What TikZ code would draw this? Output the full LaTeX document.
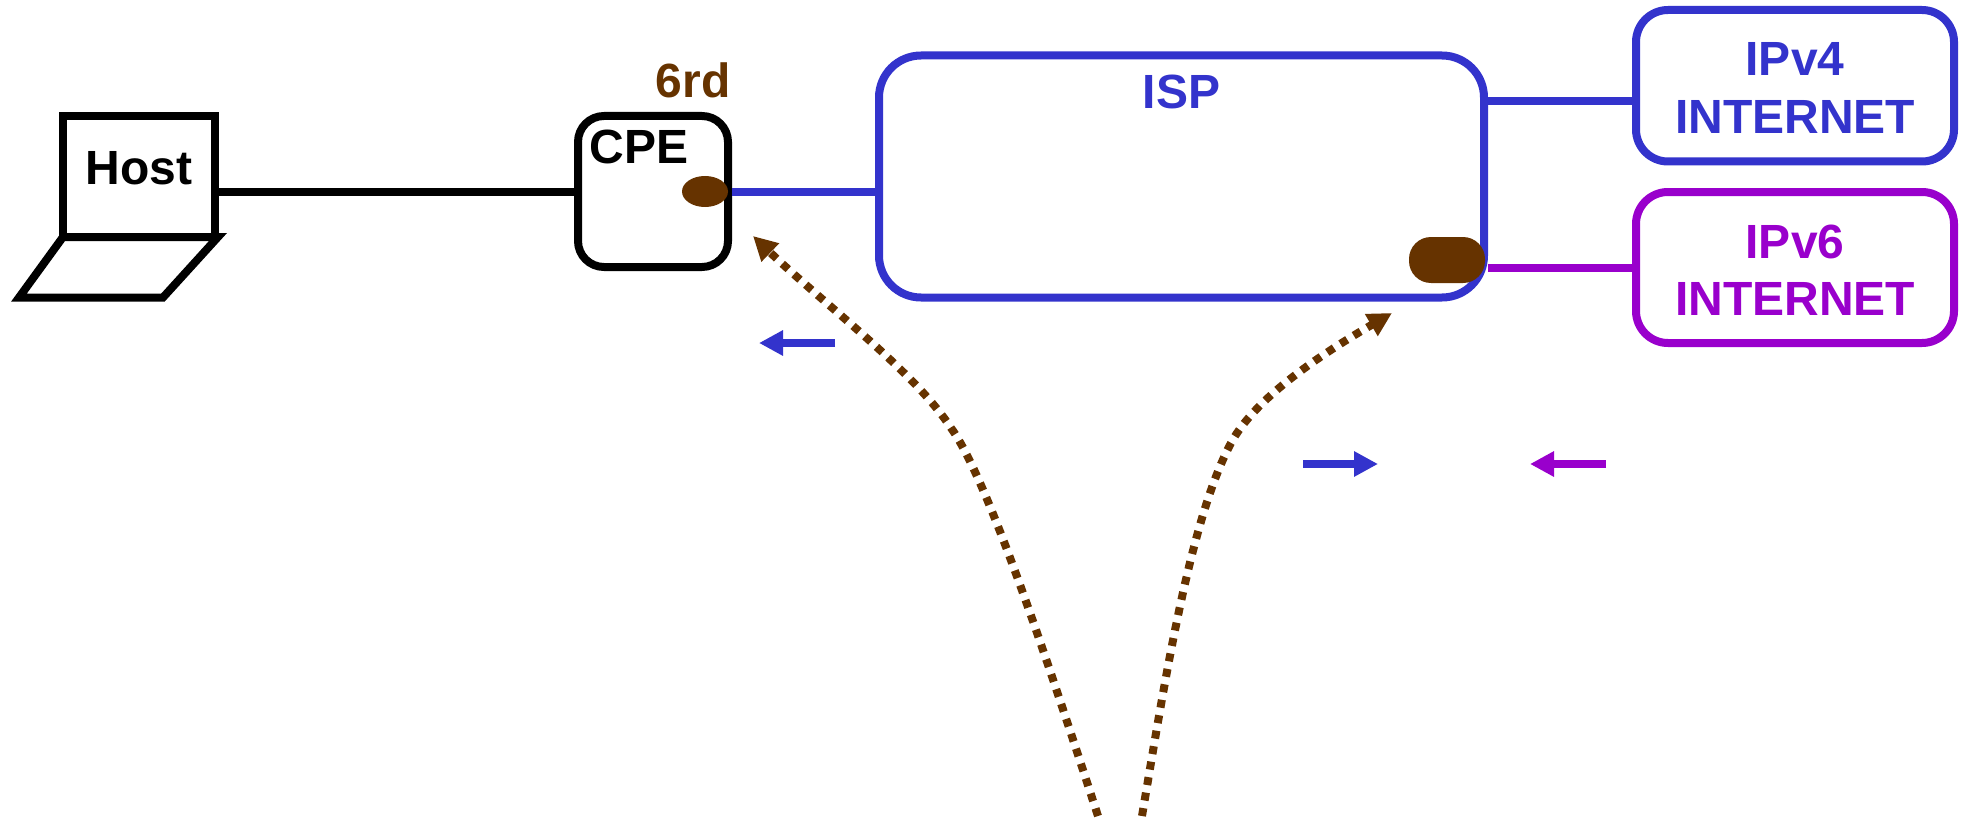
\documentclass[tikz,border=0pt]{standalone}
\usepackage{fontspec}
\setmainfont{Liberation Sans}
\usetikzlibrary{arrows.meta,shapes.geometric}
\definecolor{ispblue}{RGB}{51,51,204}
\definecolor{vsix}{RGB}{153,0,204}
\definecolor{rdbrown}{RGB}{102,51,0}
\tikzset{
  x=1pt,y=-1pt,
  lbl/.style={font=\fontsize{48}{58}\selectfont\bfseries,inner sep=0pt,anchor=base,align=center},
  boxed/.style={draw,line width=8pt,fill=none,inner sep=0pt},
  link/.style={line width=8pt},
  flow/.style={line width=8.3pt,-{Triangle[length=24pt,width=24pt]}},
  tun/.style={rdbrown,line width=8pt,dash pattern=on 8pt off 7.7pt,-{Triangle[length=24pt,width=24pt,fill=rdbrown]}},
}
\begin{document}
\begin{tikzpicture}
\useasboundingbox (0,0) rectangle (1963,824);
% host
\node[boxed,minimum width=152pt,minimum height=121pt] (host) at (139,176.5) {};
\node[lbl] (hostt) at (139,185) {Host};
\coordinate (k1) at (63,237);\coordinate (k2) at (218,237);\coordinate (k3) at (163,297.5);\coordinate (k4) at (19,297.5);
\draw[link,line join=miter] (k1)--(k2)--(k3)--(k4)--cycle;
% cpe
\node[boxed,rounded corners=26pt,minimum width=150pt,minimum height=151pt] (cpe) at (653,191.5) {};
\node[lbl] (cpet) at (639,164) {CPE};
\node[lbl,text=rdbrown] (rd) at (693,98) {6rd};
\node[ellipse,fill=rdbrown,minimum width=46pt,minimum height=31pt,inner sep=0pt] (dot) at (705,191.5) {};
% isp
\node[boxed,draw=ispblue,rounded corners=42pt,minimum width=605pt,minimum height=242pt] (isp) at (1181.5,176.5) {};
\node[lbl,text=ispblue] (ispt) at (1181.5,109) {ISP};
\node[fill=rdbrown,rounded corners=22pt,minimum width=76pt,minimum height=46pt,inner sep=0pt] (pill) at (1447,260) {};
% clouds
\node[boxed,draw=ispblue,rounded corners=32pt,minimum width=318pt,minimum height=151.5pt] (v4) at (1795,85.75) {};
\node[lbl,text=ispblue] (v4a) at (1795,76) {IPv4};
\node[lbl,text=ispblue] (v4b) at (1795,134) {INTERNET};
\node[boxed,draw=vsix,rounded corners=32pt,minimum width=318pt,minimum height=151pt] (v6) at (1795,267.5) {};
\node[lbl,text=vsix] (v6a) at (1795,258) {IPv6};
\node[lbl,text=vsix] (v6b) at (1795,315) {INTERNET};
% links
\draw[link] (host.east|-dot.center) -- (cpe.west|-dot.center);
\draw[link,ispblue] (cpe.east|-dot.center) -- (isp.west|-dot.center);
\coordinate (l4) at (1484,101);
\draw[link,ispblue] (l4) -- (v4.west|-l4);
\draw[link,vsix] (isp.east|-v6.center) -- (v6.west);
% small arrows
\coordinate (a1) at (835,343);\coordinate (a2) at (759,343);
\draw[flow,ispblue] (a1) -- (a2);
\coordinate (b1) at (1303,464);\coordinate (b2) at (1378,464);
\draw[flow,ispblue] (b1) -- (b2);
\coordinate (c1) at (1606,464);\coordinate (c2) at (1530,464);
\draw[flow,vsix] (c1) -- (c2);
% tunnels
\coordinate (t1) at (1098,816);\coordinate (t2) at (753,236);
\coordinate (u1) at (1142,816);\coordinate (u2) at (1392,313);
\draw[tun] (t1) .. controls (1060,700) and (990,481) .. (951,428) .. controls (915,372) and (825,305) .. (t2);
\draw[tun] (u1) .. controls (1165,680) and (1190,520) .. (1231,443) .. controls (1255,398) and (1320,355) .. (u2);
\end{tikzpicture}
\end{document}
